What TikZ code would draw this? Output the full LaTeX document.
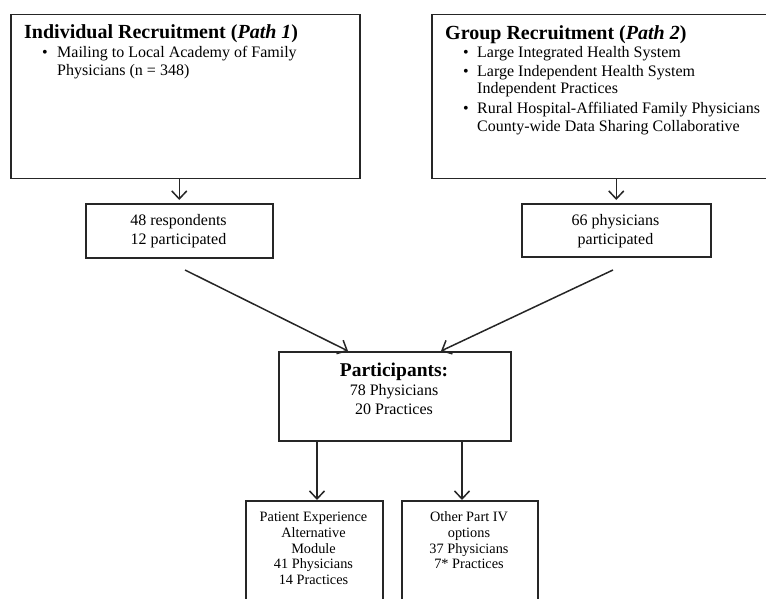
\documentclass[tikz,border=0pt]{standalone}
\usepackage{fontspec}
\setmainfont{Liberation Serif}
\usetikzlibrary{arrows.meta,calc}
\tikzset{
  box/.style={draw=black!85, line width=1.5pt, rectangle, anchor=north west, inner sep=0pt},
  ttl/.style={anchor=base west, inner sep=0pt, font=\fontsize{20}{22}\selectfont\bfseries},
  txt/.style={anchor=base west, inner sep=0pt, font=\fontsize{16}{18}\selectfont},
  ctxt/.style={anchor=base, inner sep=0pt, font=\fontsize{16}{18}\selectfont},
  stxt/.style={anchor=base, inner sep=0pt, font=\fontsize{14.3}{16}\selectfont},
  arr/.style={draw=black!85, line width=1.5pt, -{Straight Barb[length=8pt,width=15pt,line width=1.5pt]}},
}
\begin{document}
\begin{tikzpicture}[x=1pt,y=-1pt]
\useasboundingbox (0,0) rectangle (766,599);
% top boxes
\node[box, minimum width=349pt, minimum height=164pt] (b1) at (10,14) {};
\node[box, minimum width=349pt, minimum height=164pt] (b2) at (431,14) {};
\node[ttl] (t1) at (24,39) {Individual Recruitment (\textit{Path 1})};
\node[txt] (b1a) at (42,58) {•};
\node[txt] (l1a) at (57,58) {Mailing to Local Academy of Family};
\node[txt] (l1b) at (57,76) {Physicians (n = 348)};
\node[ttl] (t2) at (445,40) {Group Recruitment (\textit{Path 2})};
\node[txt] (b2a) at (463,58) {•};
\node[txt] (l2a) at (477,58) {Large Integrated Health System};
\node[txt] (b2b) at (463,77) {•};
\node[txt] (l2b) at (477,77) {Large Independent Health System};
\node[txt] (l2c) at (477,94) {Independent Practices};
\node[txt] (b2c) at (463,114) {•};
\node[txt] (l2d) at (477,114) {Rural Hospital-Affiliated Family Physicians};
\node[txt] (l2e) at (477,132) {County-wide Data Sharing Collaborative};
% small boxes
\node[box, minimum width=187pt, minimum height=54pt] (s1) at (85,203) {};
\node[ctxt] (s1a) at (178.5,225) {48 respondents};
\node[ctxt] (s1b) at (178.5,244) {12 participated};
\node[box, minimum width=189pt, minimum height=53pt] (s2) at (521,203) {};
\node[ctxt] (s2a) at (615.5,225) {66 physicians};
\node[ctxt] (s2b) at (615.5,244) {participated};
\draw[arr] (b1.south -| s1.north) -- ([yshift=3pt]s1.north);
\draw[arr] (b2.south -| s2.north) -- ([yshift=3pt]s2.north);
% participants
\node[box, minimum width=232pt, minimum height=89pt] (p) at (278,351) {};
\node[anchor=base, inner sep=0pt, font=\fontsize{19.5}{22}\selectfont\bfseries] (pa) at (394,376) {Participants:};
\node[ctxt] (pb) at (394,395) {78 Physicians};
\node[ctxt] (pc) at (394,414) {20 Practices};
\coordinate (d1) at (185,270);
\coordinate (d2) at (613,270);
\draw[arr] (d1) -- ($(p.north west)+(70,0)$);
\draw[arr] (d2) -- ($(p.north west)+(163,0)$);
% bottom boxes
\node[box, minimum width=137pt, minimum height=130pt] (q1) at (245,500) {};
\node[box, minimum width=136pt, minimum height=130pt] (q2) at (401,500) {};
\draw[arr] ($(p.south west)+(39,0)$) coordinate (e1) -- (e1 |- q1.north);
\draw[arr] ($(p.south west)+(184,0)$) coordinate (e2) -- (e2 |- q2.north);
\node[stxt] (q1a) at (313.5,521.7) {Patient Experience};
\node[stxt] (q1b) at (313.5,537.4) {Alternative};
\node[stxt] (q1c) at (313.5,553.1) {Module};
\node[stxt] (q1d) at (313.5,568.8) {41 Physicians};
\node[stxt] (q1e) at (313.5,584.5) {14 Practices};
\node[stxt] (q2a) at (469,521.7) {Other Part IV};
\node[stxt] (q2b) at (469,537.4) {options};
\node[stxt] (q2c) at (469,553.1) {37 Physicians};
\node[stxt] (q2d) at (469,568.8) {7* Practices};
\end{tikzpicture}
\end{document}
